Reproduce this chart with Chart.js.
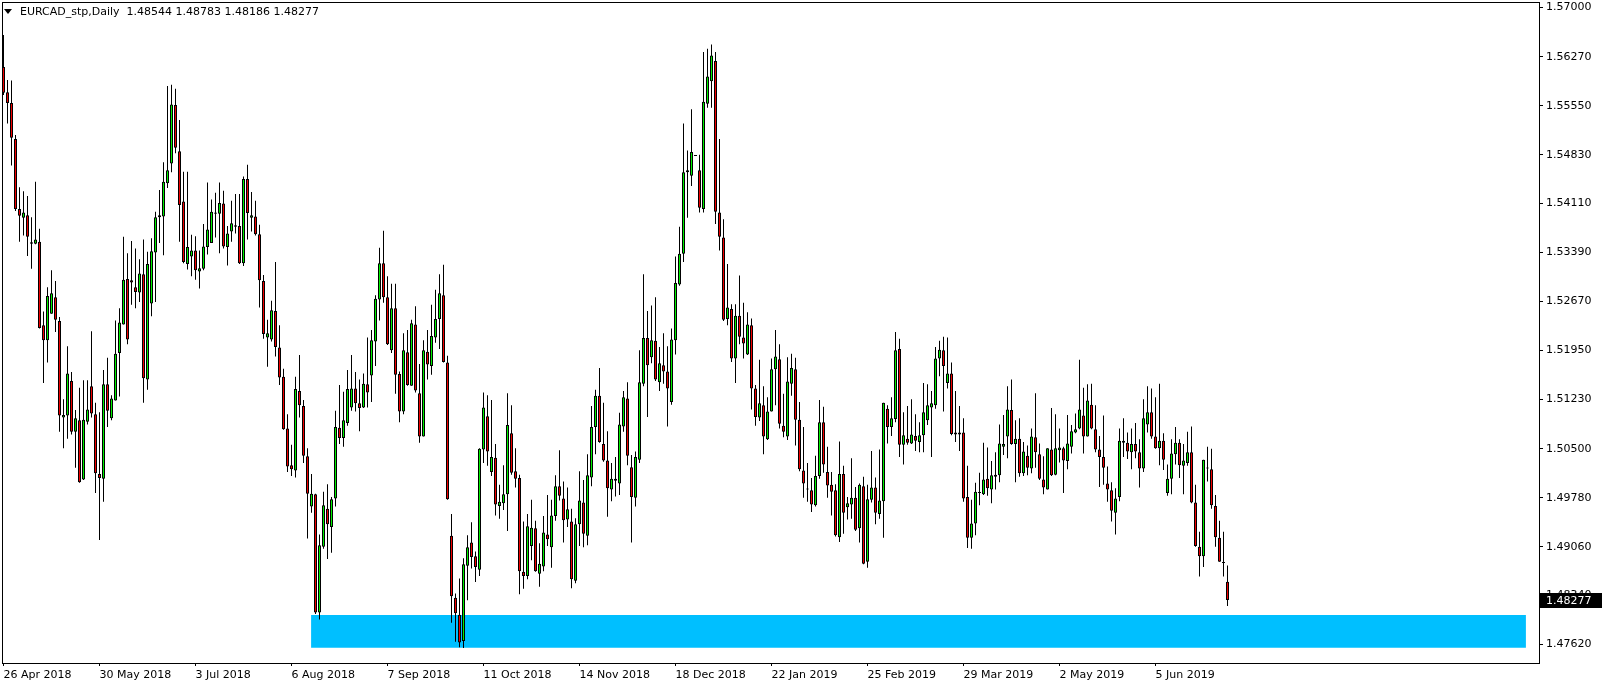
<!DOCTYPE html>
<html>
<head>
<meta charset="utf-8">
<title>EURCAD_stp,Daily</title>
<script src="https://cdn.jsdelivr.net/npm/chart.js@4.4.1/dist/chart.umd.min.js"></script>
<style>
    html, body { margin: 0; padding: 0; background: #fff; }
    #wrap { position: relative; width: 1604px; height: 687px; overflow: hidden; }
    #chart { display: block; }
    #arrow { position: absolute; left: 4px; top: 9px; width: 0; height: 0;
             border-left: 4px solid transparent; border-right: 4px solid transparent; border-top: 5px solid #000; }
    #header { position: absolute; left: 20px; top: 5px; font: 11px 'DejaVu Sans', sans-serif;
              line-height: 13px; white-space: pre; color: #000; }
</style>
</head>
<body>
<div id="wrap">
    <canvas id="chart" width="1604" height="687"></canvas>
    <div id="arrow"></div>
    <div id="header"></div>
</div>
<script>
// --- Daily candles, left to right (one per bar) ---
const opens = [
    1.5612, 1.5575, 1.5559, 1.5506, 1.5403, 1.5390, 1.5394, 1.5354, 1.5352, 1.5355,
    1.5232, 1.5210, 1.5249, 1.5273, 1.5238, 1.5096, 1.5099, 1.5150, 1.5075, 1.5092,
    1.5005, 1.5090, 1.5142, 1.5101, 1.5013, 1.5006, 1.5145, 1.5095, 1.5121, 1.5191,
    1.5233, 1.5300, 1.5298, 1.5288, 1.5280, 1.5307, 1.5152, 1.5264, 1.5339, 1.5391,
    1.5392, 1.5441, 1.5470, 1.5556, 1.5488, 1.5414, 1.5322, 1.5333, 1.5342, 1.5311,
    1.5315, 1.5347, 1.5353, 1.5396, 1.5396, 1.5411, 1.5347, 1.5370, 1.5377, 1.5378,
    1.5323, 1.5447, 1.5390, 1.5392, 1.5366, 1.5297, 1.5214, 1.5211, 1.5253, 1.5199,
    1.5156, 1.5080, 1.5026, 1.5018, 1.5135, 1.5113, 1.5039, 1.4965, 1.4983, 1.4809,
    1.4906, 1.4962, 1.4935, 1.4977, 1.5081, 1.5066, 1.5088, 1.5111, 1.5139, 1.5117,
    1.5111, 1.5145, 1.5158, 1.5208, 1.5270, 1.5323, 1.5273, 1.5195, 1.5257, 1.5160,
    1.5105, 1.5192, 1.5143, 1.5233, 1.5132, 1.5068, 1.5193, 1.5172, 1.5214, 1.5241,
    1.5276, 1.5177, 1.4922, 1.4831, 1.4806, 1.4767, 1.4878, 1.4912, 1.4892, 1.4872,
    1.5049, 1.5098, 1.5016, 1.5037, 1.4966, 1.4970, 1.4983, 1.5073, 1.5017, 1.5007,
    1.4869, 1.4863, 1.4907, 1.4933, 1.4866, 1.4877, 1.4924, 1.4905, 1.4951, 1.4995,
    1.4977, 1.4946, 1.4943, 1.4856, 1.4939, 1.4971, 1.4922, 1.5008, 1.5082, 1.5128,
    1.5057, 1.5033, 1.4990, 1.5006, 1.4999, 1.5083, 1.5124, 1.5023, 1.4978, 1.5034,
    1.5146, 1.5213, 1.5185, 1.5209, 1.5148, 1.5173, 1.5164, 1.5119, 1.5210, 1.5292,
    1.5337, 1.5457, 1.5452, 1.5481, 1.5460, 1.5403, 1.5558, 1.5591, 1.5621, 1.5398,
    1.5361, 1.5241, 1.5256, 1.5183, 1.5246, 1.5214, 1.5189, 1.5232, 1.5139, 1.5096,
    1.5114, 1.5064, 1.5105, 1.5167, 1.5182, 1.5084, 1.5068, 1.5146, 1.5167, 1.5093,
    1.5018, 1.4990, 1.4989, 1.4967, 1.5010, 1.5089, 1.5016, 1.4997, 1.4989, 1.4920,
    1.5013, 1.4964, 1.4968, 1.4978, 1.4933, 1.4995, 1.4884, 1.4975, 1.4993, 1.4954,
    1.4973, 1.5109, 1.5082, 1.5094, 1.5197, 1.5056, 1.5065, 1.5058, 1.5069, 1.5060,
    1.5070, 1.5092, 1.5111, 1.5114, 1.5183, 1.5195, 1.5147, 1.5161, 1.5071, 1.5071,
    1.5074, 1.4979, 1.4919, 1.4940, 1.4986, 1.4983, 1.5006, 1.4990, 1.5009, 1.5011,
    1.5053, 1.5068, 1.5107, 1.5057, 1.5065, 1.5014, 1.5040, 1.5021, 1.5067, 1.5042,
    1.5005, 1.4990, 1.5049, 1.5012, 1.5048, 1.5051, 1.5032, 1.5053, 1.5074, 1.5080,
    1.5099, 1.5068, 1.5115, 1.5079, 1.5049, 1.5038, 1.4999, 1.4989, 1.4956, 1.4979,
    1.5062, 1.5059, 1.5045, 1.5057, 1.5045, 1.5021, 1.5086, 1.5104, 1.5068, 1.5051,
    1.5062, 1.4985, 1.5006, 1.5042, 1.5059, 1.5025, 1.5029, 1.5045, 1.4971, 1.4906,
    1.4892, 1.5021, 1.5020, 1.4966, 1.4919, 1.4883, 1.48544
];
const highs = [
    1.5659, 1.5593, 1.5592, 1.5512, 1.5435, 1.5429, 1.5422, 1.5391, 1.5443, 1.5374,
    1.5252, 1.5288, 1.5313, 1.5297, 1.5244, 1.5123, 1.5201, 1.5163, 1.5107, 1.5140,
    1.5151, 1.5151, 1.5223, 1.5118, 1.5104, 1.5166, 1.5184, 1.5129, 1.5239, 1.5257,
    1.5362, 1.5338, 1.5356, 1.5345, 1.5329, 1.5358, 1.5340, 1.5360, 1.5399, 1.5431,
    1.5472, 1.5584, 1.5586, 1.5580, 1.5534, 1.5458, 1.5458, 1.5365, 1.5363, 1.5342,
    1.5381, 1.5442, 1.5417, 1.5427, 1.5442, 1.5430, 1.5378, 1.5415, 1.5425, 1.5425,
    1.5451, 1.5468, 1.5428, 1.5415, 1.5380, 1.5306, 1.5240, 1.5268, 1.5325, 1.5232,
    1.5168, 1.5101, 1.5056, 1.5156, 1.5188, 1.5122, 1.5051, 1.5013, 1.4984, 1.4924,
    1.4987, 1.4998, 1.4979, 1.5106, 1.5144, 1.5134, 1.5166, 1.5188, 1.5163, 1.5152,
    1.5161, 1.5214, 1.5225, 1.5276, 1.5346, 1.5371, 1.5304, 1.5293, 1.5293, 1.5164,
    1.5220, 1.5225, 1.5240, 1.5260, 1.5175, 1.5210, 1.5225, 1.5262, 1.5284, 1.5307,
    1.5321, 1.5187, 1.4954, 1.4837, 1.4859, 1.4889, 1.4923, 1.4942, 1.4899, 1.5051,
    1.5133, 1.5129, 1.5122, 1.5057, 1.4997, 1.5026, 1.5132, 1.5114, 1.5051, 1.5012,
    1.4943, 1.4954, 1.4975, 1.4944, 1.4911, 1.4951, 1.4982, 1.4975, 1.5011, 1.5048,
    1.5002, 1.4993, 1.4962, 1.4948, 1.5017, 1.5004, 1.5042, 1.5113, 1.5137, 1.5169,
    1.5118, 1.5076, 1.5029, 1.5038, 1.5103, 1.5135, 1.5148, 1.5041, 1.5046, 1.5195,
    1.5307, 1.5253, 1.5261, 1.5273, 1.5200, 1.5220, 1.5201, 1.5227, 1.5333, 1.5377,
    1.5529, 1.5489, 1.5550, 1.5481, 1.5483, 1.5634, 1.5639, 1.5645, 1.5634, 1.5506,
    1.5388, 1.5322, 1.5263, 1.5263, 1.5305, 1.5265, 1.5251, 1.5242, 1.5144, 1.5181,
    1.5142, 1.5126, 1.5183, 1.5225, 1.5204, 1.5131, 1.5185, 1.5190, 1.5184, 1.5119,
    1.5082, 1.5029, 1.5007, 1.5040, 1.5122, 1.5112, 1.5053, 1.5016, 1.4998, 1.5061,
    1.5025, 1.4979, 1.5036, 1.4994, 1.4999, 1.5009, 1.4997, 1.5047, 1.5008, 1.5049,
    1.5118, 1.5114, 1.5126, 1.5222, 1.5212, 1.5104, 1.5113, 1.5123, 1.5101, 1.5089,
    1.5147, 1.5145, 1.5135, 1.5200, 1.5209, 1.5215, 1.5214, 1.5177, 1.5135, 1.5113,
    1.5095, 1.5025, 1.4975, 1.5000, 1.5015, 1.5059, 1.5052, 1.5032, 1.5045, 1.5086,
    1.5100, 1.5142, 1.5152, 1.5092, 1.5095, 1.5060, 1.5055, 1.5080, 1.5132, 1.5058,
    1.5039, 1.5051, 1.5110, 1.5101, 1.5080, 1.5053, 1.5100, 1.5085, 1.5102, 1.5181,
    1.5140, 1.5145, 1.5146, 1.5114, 1.5069, 1.5099, 1.5024, 1.5001, 1.4992, 1.5080,
    1.5095, 1.5074, 1.5080, 1.5088, 1.5064, 1.5123, 1.5142, 1.5139, 1.5126, 1.5146,
    1.5073, 1.5027, 1.5064, 1.5082, 1.5064, 1.5057, 1.5075, 1.5083, 1.4997, 1.4928,
    1.5034, 1.5053, 1.5050, 1.4982, 1.4944, 1.4928, 1.48783
];
const lows = [
    1.5571, 1.5529, 1.5467, 1.5400, 1.5355, 1.5364, 1.5334, 1.5315, 1.5351, 1.5227,
    1.5147, 1.5177, 1.5249, 1.5222, 1.5075, 1.5051, 1.5065, 1.5071, 1.5022, 1.5000,
    1.5004, 1.5086, 1.5096, 1.4985, 1.4916, 1.4972, 1.5082, 1.5092, 1.5121, 1.5127,
    1.5233, 1.5204, 1.5262, 1.5257, 1.5266, 1.5118, 1.5137, 1.5245, 1.5266, 1.5353,
    1.5335, 1.5434, 1.5457, 1.5485, 1.5355, 1.5323, 1.5314, 1.5304, 1.5299, 1.5286,
    1.5313, 1.5336, 1.5353, 1.5361, 1.5338, 1.5345, 1.5320, 1.5355, 1.5367, 1.5322,
    1.5319, 1.5358, 1.5370, 1.5364, 1.5258, 1.5212, 1.5171, 1.5208, 1.5186, 1.5144,
    1.5078, 1.5016, 1.5010, 1.5008, 1.5096, 1.5029, 1.4918, 1.4956, 1.4807, 1.4799,
    1.4903, 1.4888, 1.4897, 1.4965, 1.5057, 1.5053, 1.5084, 1.5106, 1.5105, 1.5076,
    1.5110, 1.5111, 1.5119, 1.5172, 1.5239, 1.5265, 1.5203, 1.5191, 1.5131, 1.5089,
    1.5101, 1.5143, 1.5143, 1.5133, 1.5059, 1.5068, 1.5152, 1.5159, 1.5206, 1.5197,
    1.5177, 1.4975, 1.4794, 1.4766, 1.4758, 1.4757, 1.4827, 1.4874, 1.4854, 1.4863,
    1.5029, 1.5025, 1.5010, 1.4952, 1.4947, 1.4960, 1.4929, 1.5012, 1.4993, 1.4836,
    1.4844, 1.4858, 1.4886, 1.4869, 1.4847, 1.4870, 1.4907, 1.4875, 1.4944, 1.4974,
    1.4912, 1.4935, 1.4845, 1.4852, 1.4907, 1.4905, 1.4908, 1.4995, 1.5042, 1.5059,
    1.5031, 1.4950, 1.4973, 1.4980, 1.4982, 1.5075, 1.5026, 1.4912, 1.4965, 1.5029,
    1.5142, 1.5097, 1.5176, 1.5150, 1.5135, 1.5146, 1.5083, 1.5115, 1.5189, 1.5290,
    1.5325, 1.5390, 1.5437, 1.5481, 1.5398, 1.5398, 1.5552, 1.5552, 1.5381, 1.5342,
    1.5238, 1.5232, 1.5178, 1.5147, 1.5204, 1.5183, 1.5188, 1.5108, 1.5084, 1.5091,
    1.5042, 1.5063, 1.5105, 1.5114, 1.5080, 1.5067, 1.5063, 1.5128, 1.5055, 1.5017,
    1.4978, 1.4972, 1.4957, 1.4965, 1.5006, 1.5015, 1.4978, 1.4952, 1.4921, 1.4913,
    1.4925, 1.4946, 1.4947, 1.4929, 1.4912, 1.4880, 1.4875, 1.4971, 1.4939, 1.4947,
    1.4919, 1.5058, 1.5069, 1.5089, 1.5038, 1.5027, 1.5056, 1.5057, 1.5047, 1.5045,
    1.5045, 1.5085, 1.5038, 1.5109, 1.5157, 1.5105, 1.5139, 1.5070, 1.5060, 1.5047,
    1.4972, 1.4904, 1.4903, 1.4923, 1.4967, 1.4982, 1.4981, 1.4970, 1.4990, 1.5001,
    1.5041, 1.5036, 1.5056, 1.5001, 1.5009, 1.5010, 1.5011, 1.5014, 1.5022, 1.5004,
    1.4983, 1.4990, 1.5010, 1.5011, 1.5030, 1.4985, 1.5020, 1.5043, 1.5073, 1.5079,
    1.5043, 1.5068, 1.5079, 1.5045, 1.4994, 1.4997, 1.4972, 1.4943, 1.4924, 1.4973,
    1.5038, 1.5035, 1.5020, 1.5036, 1.4993, 1.5016, 1.5074, 1.5065, 1.5050, 1.5026,
    1.5019, 1.4981, 1.4983, 1.5027, 1.5007, 1.4983, 1.5025, 1.4970, 1.4906, 1.4862,
    1.4876, 1.5002, 1.4962, 1.4906, 1.4884, 1.4862, 1.48186
];
const closes = [
    1.5574, 1.5559, 1.5508, 1.5403, 1.5393, 1.5398, 1.5362, 1.5352, 1.5358, 1.5228,
    1.5210, 1.5275, 1.5279, 1.5240, 1.5099, 1.5100, 1.5161, 1.5075, 1.5095, 1.5001,
    1.5093, 1.5108, 1.5102, 1.5014, 1.5007, 1.5145, 1.5106, 1.5124, 1.5190, 1.5236,
    1.5299, 1.5211, 1.5295, 1.5281, 1.5308, 1.5154, 1.5322, 1.5341, 1.5391, 1.5394,
    1.5443, 1.5460, 1.5557, 1.5493, 1.5409, 1.5325, 1.5347, 1.5342, 1.5313, 1.5316,
    1.5348, 1.5373, 1.5399, 1.5398, 1.5412, 1.5348, 1.5367, 1.5382, 1.5379, 1.5323,
    1.5447, 1.5397, 1.5394, 1.5366, 1.5298, 1.5219, 1.5220, 1.5254, 1.5200, 1.5155,
    1.5079, 1.5024, 1.5020, 1.5138, 1.5114, 1.5040, 1.4984, 1.4984, 1.4809, 1.4908,
    1.4967, 1.4939, 1.4976, 1.5082, 1.5066, 1.5092, 1.5138, 1.5139, 1.5117, 1.5110,
    1.5146, 1.5133, 1.5210, 1.5271, 1.5323, 1.5273, 1.5204, 1.5257, 1.5159, 1.5105,
    1.5195, 1.5144, 1.5235, 1.5136, 1.5068, 1.5195, 1.5174, 1.5216, 1.5241, 1.5279,
    1.5178, 1.4976, 1.4833, 1.4808, 1.4765, 1.4880, 1.4905, 1.4891, 1.4876, 1.5050,
    1.5111, 1.5046, 1.5038, 1.4968, 1.4972, 1.4983, 1.5085, 1.5015, 1.5006, 1.4870,
    1.4863, 1.4936, 1.4934, 1.4870, 1.4881, 1.4927, 1.4917, 1.4952, 1.4995, 1.4981,
    1.4945, 1.4961, 1.4858, 1.4939, 1.4974, 1.4925, 1.5011, 1.5082, 1.5128, 1.5060,
    1.5033, 1.4992, 1.5006, 1.5003, 1.5086, 1.5126, 1.5040, 1.4979, 1.5038, 1.5148,
    1.5213, 1.5173, 1.5210, 1.5152, 1.5176, 1.5164, 1.5139, 1.5211, 1.5294, 1.5337,
    1.5457, 1.5460, 1.5487, 1.5481, 1.5405, 1.5561, 1.5598, 1.5629, 1.5399, 1.5362,
    1.5240, 1.5258, 1.5183, 1.5246, 1.5215, 1.5205, 1.5233, 1.5139, 1.5097, 1.5117,
    1.5068, 1.5105, 1.5167, 1.5186, 1.5087, 1.5075, 1.5149, 1.5169, 1.5093, 1.5020,
    1.4999, 1.4990, 1.4968, 1.5010, 1.5089, 1.5027, 1.4996, 1.4987, 1.4923, 1.5013,
    1.4956, 1.4970, 1.4978, 1.4931, 1.4997, 1.4881, 1.4976, 1.4993, 1.4956, 1.4974,
    1.5118, 1.5082, 1.5095, 1.5195, 1.5056, 1.5070, 1.5059, 1.5071, 1.5062, 1.5070,
    1.5104, 1.5114, 1.5117, 1.5183, 1.5196, 1.5172, 1.5161, 1.5072, 1.5074, 1.5074,
    1.4977, 1.4919, 1.4940, 1.4987, 1.4985, 1.5005, 1.4992, 1.5011, 1.5012, 1.5058,
    1.5057, 1.5108, 1.5057, 1.5065, 1.5014, 1.5046, 1.5022, 1.5068, 1.5045, 1.5006,
    1.4993, 1.5051, 1.5011, 1.5051, 1.5052, 1.5033, 1.5058, 1.5076, 1.5079, 1.5108,
    1.5068, 1.5121, 1.5080, 1.5049, 1.5038, 1.5022, 1.4990, 1.4959, 1.4977, 1.5062,
    1.5059, 1.5046, 1.5057, 1.5046, 1.5021, 1.5095, 1.5104, 1.5068, 1.5051, 1.5062,
    1.5034, 1.5006, 1.5043, 1.5059, 1.5026, 1.5033, 1.5045, 1.4971, 1.4907, 1.4892,
    1.5034, 1.5021, 1.4967, 1.4920, 1.4884, 1.4882, 1.48277
];

// --- Axis labels ---
const dateLabels = ['26 Apr 2018', '30 May 2018', '3 Jul 2018', '6 Aug 2018', '7 Sep 2018',
    '11 Oct 2018', '14 Nov 2018', '18 Dec 2018', '22 Jan 2019', '25 Feb 2019',
    '29 Mar 2019', '2 May 2019', '5 Jun 2019'];
const dateBars = [0, 24, 48, 72, 96, 120, 144, 168, 192, 216, 240, 264, 288];
const priceTicks = [1.57, 1.5627, 1.5555, 1.5483, 1.5411, 1.5339, 1.5267,
    1.5195, 1.5123, 1.505, 1.4978, 1.4906, 1.4834, 1.4762];

// --- Support zone (bar index range, price range) ---
const zoneBars = [76.9, 380.6];
const zonePrices = [1.47573, 1.48054];

const symbol = 'EURCAD_stp,Daily';
const last = closes.length - 1;
document.getElementById('header').textContent = symbol + '  ' +
    [opens[last], highs[last], lows[last], closes[last]].map(v => v.toFixed(5)).join(' ');

const font = { family: 'DejaVu Sans', size: 11 };
const bull = '#00F000';
const bear = '#F00000';

const wickData = highs.map((h, i) => ({ x: i, y: [lows[i], h] }));
const bodyData = opens.map((o, i) => ({ x: i, y: [o, closes[i]] }));
const bodyColors = opens.map((o, i) => closes[i] >= o ? bull : bear);

// black box with the last price on the price scale
const priceTag = {
    id: 'priceTag',
    afterDraw(chart) {
        const { ctx, chartArea, scales } = chart;
        const py = Math.round(scales.y.getPixelForValue(closes[last]));
        ctx.save();
        ctx.fillStyle = '#000';
        ctx.fillRect(chartArea.right + 1, py - 7, 62, 15);
        ctx.fillStyle = '#fff';
        ctx.font = '11px "DejaVu Sans"';
        ctx.textBaseline = 'middle';
        ctx.fillText(closes[last].toFixed(5), chartArea.right + 7, py + 1);
        ctx.restore();
    }
};

// thin frame around the plot area
const frame = {
    id: 'frame',
    afterDatasetsDraw(chart) {
        const { ctx, chartArea: a } = chart;
        ctx.save();
        ctx.strokeStyle = '#000';
        ctx.lineWidth = 1;
        ctx.strokeRect(Math.round(a.left) + 0.5, Math.round(a.top) + 0.5,
            Math.round(a.right - a.left), Math.round(a.bottom - a.top));
        ctx.restore();
    }
};

new Chart(document.getElementById('chart').getContext('2d'), {
    type: 'bar',
    data: {
        datasets: [
            {
                type: 'line',
                data: zoneBars.map(x => ({ x: x, y: zonePrices[1] })),
                fill: { value: zonePrices[0] },
                backgroundColor: '#00BFFF',
                borderWidth: 0,
                pointRadius: 0,
                order: 3
            },
            {
                data: wickData,
                backgroundColor: '#000',
                barThickness: 1,
                order: 2
            },
            {
                data: bodyData,
                backgroundColor: bodyColors,
                borderColor: '#000',
                borderWidth: 1,
                borderSkipped: false,
                barThickness: 3,
                minBarLength: 1,
                order: 1
            }
        ]
    },
    options: {
        responsive: false,
        animation: false,
        layout: { padding: { left: 2, top: 2, right: 0, bottom: 0 } },
        datasets: { bar: { grouped: false, inflateAmount: 0 } },
        plugins: { legend: { display: false }, tooltip: { enabled: false } },
        scales: {
            x: {
                type: 'linear',
                offset: false,
                bounds: 'data',
                min: -0.375,
                max: 383.875,
                afterFit: s => { s.height = 24; s.paddingLeft = 0; s.paddingRight = 0; },
                afterBuildTicks: s => { s.ticks = dateBars.map(v => ({ value: v })); },
                ticks: {
                    autoSkip: false,
                    maxRotation: 0,
                    align: 'start',
                    padding: 3,
                    color: '#000',
                    font: font,
                    callback: v => dateLabels[dateBars.indexOf(v)]
                },
                grid: { offset: false, drawOnChartArea: false, tickLength: 3, color: '#000' },
                border: { color: '#000' }
            },
            y: {
                position: 'right',
                bounds: 'data',
                min: 1.47348,
                max: 1.57077,
                afterFit: s => { s.width = 65; s.paddingTop = 0; s.paddingBottom = 0; },
                afterBuildTicks: s => { s.ticks = priceTicks.map(v => ({ value: v })); },
                ticks: {
                    autoSkip: false,
                    padding: 3,
                    color: '#000',
                    font: font,
                    callback: v => v.toFixed(5)
                },
                grid: { drawOnChartArea: false, tickLength: 4, color: '#000' },
                border: { color: '#000' }
            }
        }
    },
    plugins: [frame, priceTag]
});
</script>
</body>
</html>
